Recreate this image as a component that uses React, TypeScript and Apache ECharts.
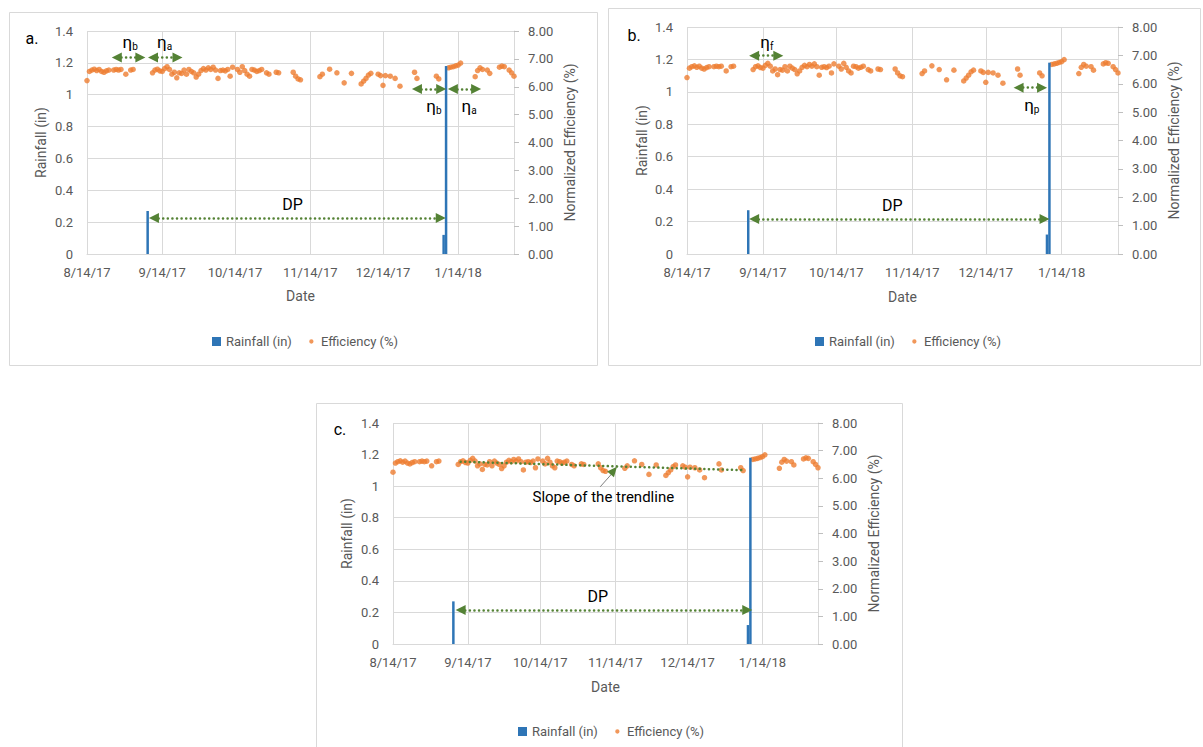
import React, { useEffect, useRef } from 'react';
import * as echarts from 'echarts';

// ---------- data ----------
const xStart = '8/14/17';
const xEnd = '2/6/18';
const xTickLabels = ['8/14/17', '9/14/17', '10/14/17', '11/14/17', '12/14/17', '1/14/18'];

const rainDates = ['9/8/17', '1/8/18', '1/9/18'];
const rainValues = [0.27, 0.12, 1.18];

const effDates = [
  '8/14/17', '8/15/17', '8/16/17', '8/17/17', '8/18/17', '8/19/17', '8/20/17', '8/21/17', '8/22/17', '8/23/17',
  '8/25/17', '8/26/17', '8/27/17', '8/28/17', '8/30/17', '9/1/17', '9/2/17',
  '9/10/17', '9/11/17', '9/12/17', '9/13/17', '9/14/17', '9/15/17', '9/16/17', '9/17/17', '9/18/17', '9/19/17',
  '9/20/17', '9/21/17', '9/22/17', '9/23/17', '9/24/17', '9/25/17', '9/26/17', '9/27/17', '9/28/17', '9/29/17',
  '9/30/17', '10/1/17', '10/2/17', '10/3/17', '10/4/17', '10/5/17', '10/6/17', '10/7/17', '10/8/17', '10/9/17',
  '10/10/17', '10/11/17', '10/12/17', '10/13/17', '10/15/17', '10/16/17', '10/17/17', '10/18/17', '10/19/17',
  '10/20/17', '10/21/17', '10/22/17', '10/23/17', '10/24/17', '10/25/17', '10/27/17', '10/28/17', '10/31/17',
  '11/1/17', '11/7/17', '11/8/17', '11/9/17', '11/10/17', '11/18/17', '11/19/17', '11/22/17', '11/25/17',
  '11/28/17', '12/1/17', '12/5/17', '12/6/17', '12/7/17', '12/8/17', '12/9/17', '12/12/17', '12/13/17',
  '12/14/17', '12/15/17', '12/17/17', '12/19/17', '12/21/17', '12/27/17', '12/28/17', '1/5/18', '1/6/18',
  '1/10/18', '1/11/18', '1/12/18', '1/13/18', '1/14/18', '1/15/18', '1/21/18', '1/22/18', '1/23/18', '1/24/18',
  '1/26/18', '1/27/18', '1/31/18', '2/1/18', '2/2/18', '2/4/18', '2/5/18', '2/6/18',
];
const effValues = [
  6.22, 6.55, 6.60, 6.63, 6.58, 6.62, 6.55, 6.52, 6.57, 6.60,
  6.60, 6.62, 6.60, 6.62, 6.45, 6.60, 6.62,
  6.50, 6.60, 6.63, 6.57, 6.55, 6.65, 6.72, 6.62, 6.45, 6.52,
  6.32, 6.50, 6.48, 6.60, 6.45, 6.62, 6.55, 6.50, 6.35, 6.45,
  6.58, 6.65, 6.60, 6.68, 6.62, 6.70, 6.60, 6.30, 6.58, 6.60,
  6.57, 6.62, 6.38, 6.70, 6.62, 6.52, 6.72, 6.58, 6.45,
  6.38, 6.62, 6.60, 6.55, 6.58, 6.62, 6.50, 6.45, 6.52,
  6.50, 6.52, 6.38, 6.28, 6.25, 6.36, 6.45, 6.63, 6.50,
  6.14, 6.48, 6.10, 6.20, 6.30, 6.42, 6.48, 6.45, 6.40,
  6.05, 6.40, 6.38, 6.30, 6.02, 6.52, 6.30, 6.38, 6.28,
  6.68, 6.70, 6.72, 6.75, 6.78, 6.85, 6.36, 6.58, 6.68, 6.62,
  6.60, 6.48, 6.70, 6.74, 6.72, 6.60, 6.50, 6.38,
];

const trendDates = ['9/11/17', '1/7/18'];
const trendValues = [6.6, 6.29];

// ---------- helpers ----------
function dayOf(s: string) {
  const [m, d, y] = s.split('/').map(Number);
  const [m0, d0, y0] = xStart.split('/').map(Number);
  return Math.round((Date.UTC(2000 + y, m - 1, d) - Date.UTC(2000 + y0, m0 - 1, d0)) / 86400000);
}
const tickDays = xTickLabels.map(dayOf);

const FONT = 'Roboto, "Open Sans", sans-serif';
const GREEN = '#548235';
const BLUE = '#2E75B6';
const ORANGE = '#ED7D31';
const GRIDC = '#d9d9d9';
const TXT = '#595959';
const DOT_ICON = 'path://M0,0M10,10M2.6,5A2.4,2.4,0,1,1,7.4,5A2.4,2.4,0,1,1,2.6,5Z';

type Ann = { at: [number, number]; text: string; sub?: string };
type Panel = {
  label: string; labelPos: [number, number];
  grid: [number, number, number, number];
  box: [number, number, number, number];
  legend: [number, number];
  leftGap: number; rightGap: number; dateGap: number;
  arrows: [number, number, number][]; // x1, x2, y (rainfall units)
  texts: Ann[];
  trend?: boolean;
};

const panels: Panel[] = [
  {
    label: 'a.', labelPos: [32, 38], grid: [87, 31, 427, 223], box: [9.5, 12.5, 588, 353], legend: [207, 330],
    leftGap: 39, rightGap: 49, dateGap: 35,
    arrows: [[12.3, 22, 1.234], [27.2, 37.3, 1.234], [136, 146, 1.036], [150.8, 160.4, 1.036], [27.6, 145.8, 0.226]],
    texts: [
      { at: [17.8, 1.331], text: 'η', sub: 'b' }, { at: [32, 1.331], text: 'η', sub: 'a' },
      { at: [143, 0.929], text: 'η', sub: 'b' }, { at: [157.5, 0.929], text: 'η', sub: 'a' },
      { at: [84.7, 0.308], text: 'DP' },
    ],
  },
  {
    label: 'b.', labelPos: [634, 35], grid: [687, 27, 431, 227], box: [608.5, 8.5, 592, 357], legend: [810, 330],
    leftGap: 38, rightGap: 49, dateGap: 36,
    arrows: [[27.4, 37.3, 1.223], [135.4, 145, 1.026], [27.4, 146, 0.216]],
    texts: [
      { at: [32.6, 1.31], text: 'η', sub: 'f' }, { at: [140.8, 0.919], text: 'η', sub: 'p' },
      { at: [83.8, 0.302], text: 'DP' },
    ],
  },
  {
    label: 'c.', labelPos: [340, 429], grid: [393, 423, 425, 221], box: [316.5, 403.5, 586, 360], legend: [513, 720],
    leftGap: 39, rightGap: 49, dateGap: 36,
    arrows: [[28, 146.7, 0.215]],
    texts: [{ at: [84.8, 0.3], text: 'DP' }],
    trend: true,
  },
];

function buildOption() {
  const grid: any[] = [];
  const xAxis: any[] = [];
  const yAxis: any[] = [];
  const series: any[] = [];
  const legend: any[] = [];
  const graphic: any[] = [];

  panels.forEach((p, i) => {
    graphic.push({
      type: 'rect', shape: { x: p.box[0], y: p.box[1], width: p.box[2], height: p.box[3] },
      style: { fill: 'none', stroke: GRIDC, lineWidth: 1 }, silent: true, z: -1,
    });
    graphic.push({
      type: 'text', x: p.labelPos[0], y: p.labelPos[1],
      style: { text: p.label, fill: '#000', font: `16px ${FONT}`, align: 'center', verticalAlign: 'middle' },
    });
    grid.push({ left: p.grid[0], top: p.grid[1], width: p.grid[2], height: p.grid[3], outerBoundsMode: 'none' });
    xAxis.push({
      type: 'value', gridIndex: i, min: dayOf(xStart), max: dayOf(xEnd),
      axisLine: { show: true, lineStyle: { color: GRIDC } },
      axisTick: { show: false, customValues: tickDays },
      axisLabel: {
        customValues: tickDays, color: TXT, fontSize: 13, fontFamily: FONT, margin: 12,
        formatter: (v: number) => { const k = tickDays.indexOf(Math.round(v)); return k >= 0 ? xTickLabels[k] : ''; },
      },
      splitLine: { show: true, lineStyle: { color: GRIDC } },
      name: 'Date', nameLocation: 'middle', nameGap: p.dateGap,
      nameTextStyle: { color: TXT, fontSize: 14, fontFamily: FONT },
    });
    yAxis.push({
      type: 'value', gridIndex: i, position: 'left', min: 0, max: 1.4, interval: 0.2,
      axisLine: { show: false }, axisTick: { show: false },
      axisLabel: { color: TXT, fontSize: 13, fontFamily: FONT, margin: 14 },
      splitLine: { show: true, lineStyle: { color: GRIDC } },
      name: 'Rainfall (in)', nameLocation: 'middle', nameGap: p.leftGap, nameRotate: 90,
      nameTextStyle: { color: TXT, fontSize: 14, fontFamily: FONT },
    });
    yAxis.push({
      type: 'value', gridIndex: i, position: 'right', min: 0, max: 8, interval: 1,
      axisLine: { show: true, lineStyle: { color: GRIDC } },
      axisTick: { show: true, length: 5, lineStyle: { color: '#bfbfbf' } },
      axisLabel: { color: TXT, fontSize: 13, fontFamily: FONT, margin: 14, formatter: (v: number) => v.toFixed(2) },
      splitLine: { show: false },
      name: 'Normalized Efficiency (%)', nameLocation: 'middle', nameGap: p.rightGap, nameRotate: 90,
      nameTextStyle: { color: TXT, fontSize: 14, fontFamily: FONT },
    });

    const arrowLines = p.arrows.map(([x1, x2, y]) => [{ coord: [x1, y] }, { coord: [x2, y] }]);
    const textPoints = p.texts.map((t) => ({
      coord: t.at, symbol: 'circle', symbolSize: 1, itemStyle: { color: 'rgba(0,0,0,0)' },
      label: {
        show: true, position: 'inside',
        formatter: t.sub ? `{e|${t.text}}{s|${t.sub}}` : `{d|${t.text}}`,
        rich: {
          e: { fontSize: 17, color: '#000', fontFamily: FONT },
          s: { fontSize: 10, color: '#000', fontFamily: FONT, padding: [9, 0, 0, 0] },
          d: { fontSize: 16, color: '#000', fontFamily: FONT },
        },
      },
    }));

    series.push({
      type: 'bar', name: 'Rainfall (in)', xAxisIndex: i, yAxisIndex: 2 * i,
      data: rainDates.map((d, k) => [dayOf(d), rainValues[k]]),
      barWidth: 2.5, itemStyle: { color: BLUE },
      markLine: {
        silent: true, symbol: ['triangle', 'triangle'], symbolSize: [10, 10],
        label: { show: false },
        lineStyle: { color: GREEN, width: 2.5, type: [0.1, 4.5], cap: 'round' },
        emphasis: { disabled: true },
        data: arrowLines,
      },
      markPoint: { silent: true, data: textPoints },
      z: 3,
    });

    const effSeries: any = {
      type: 'scatter', name: 'Efficiency (%)', xAxisIndex: i, yAxisIndex: 2 * i + 1,
      data: effDates.map((d, k) => [dayOf(d), effValues[k]]),
      symbolSize: 5.5, itemStyle: { color: ORANGE }, z: 2,
    };
    if (p.trend) {
      effSeries.markLine = {
        silent: true, symbol: ['none', 'none'], label: { show: false },
        lineStyle: { color: '#7f7f7f', width: 1, type: 'solid' },
        emphasis: { disabled: true },
        data: [[{ coord: [85.8, 5.69] }, { coord: [90.6, 6.16] }]],
      };
      effSeries.markPoint = {
        silent: true,
        data: [
          { coord: [91.4, 6.28], symbol: 'triangle', symbolSize: [9, 10], symbolRotate: -40, itemStyle: { color: GREEN } },
          {
            coord: [87.1, 5.33], symbol: 'circle', symbolSize: 1, itemStyle: { color: 'rgba(0,0,0,0)' },
            label: { show: true, position: 'inside', formatter: 'Slope of the trendline', color: '#000', fontSize: 15, fontFamily: FONT },
          },
        ],
      };
      series.push({
        type: 'line', name: 'Trend', xAxisIndex: i, yAxisIndex: 2 * i + 1,
        data: trendDates.map((d, k) => [dayOf(d), trendValues[k]]),
        showSymbol: false, symbol: 'none',
        lineStyle: { color: GREEN, width: 2.5, type: [0.1, 4.5], cap: 'round' },
        z: 4, silent: true,
      });
    }
    series.push(effSeries);

    legend.push({
      left: p.legend[0], top: p.legend[1], itemWidth: 9, itemHeight: 9, itemGap: 15,
      textStyle: { color: TXT, fontSize: 13, fontFamily: FONT },
      data: [{ name: 'Rainfall (in)', icon: 'rect' }, { name: 'Efficiency (%)', icon: DOT_ICON }],
      selectedMode: false,
    });
  });

  return {
    animation: false,
    backgroundColor: '#fff',
    textStyle: { fontFamily: FONT },
    grid, xAxis, yAxis, series, legend, graphic,
  };
}

export default function App() {
  const ref = useRef<HTMLDivElement>(null);
  useEffect(() => {
    const chart = echarts.init(ref.current as HTMLDivElement, null, { renderer: 'svg' });
    chart.setOption(buildOption() as any);
    return () => chart.dispose();
  }, []);
  return (
    <div
      ref={ref}
      style={{ position: 'fixed', left: 0, top: 0, width: 1203, height: 747, background: '#fff' }}
    />
  );
}
